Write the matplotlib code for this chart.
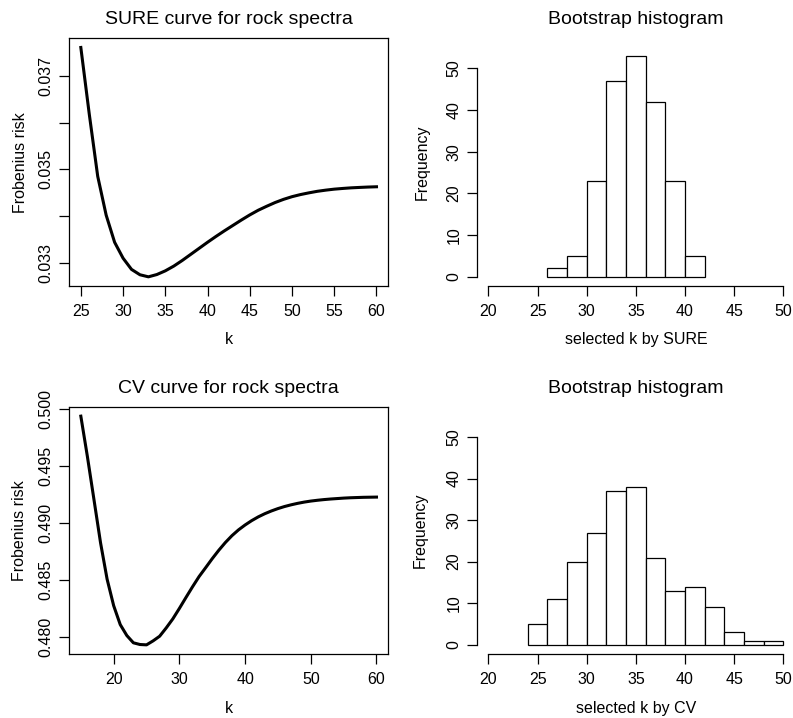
#!/usr/bin/env python3

import matplotlib
matplotlib.use('Agg')
import matplotlib.pyplot as plt

# SURE risk curve (k = 25..60)
sure_k = list(range(25, 61))
sure_risk = [0.037606, 0.036180, 0.034850, 0.034020, 0.033440, 0.033100,
             0.032860, 0.032745, 0.032701, 0.032750, 0.032829, 0.032930,
             0.033050, 0.033180, 0.033310, 0.033440, 0.033565, 0.033685,
             0.033800, 0.033915, 0.034025, 0.034125, 0.034210, 0.034290,
             0.034358, 0.034415, 0.034460, 0.034497, 0.034530, 0.034555,
             0.034576, 0.034591, 0.034604, 0.034613, 0.034621, 0.034627]

# CV risk curve (k = 15..60)
cv_k = list(range(15, 61))
cv_risk = [0.49936, 0.49581, 0.49203, 0.48824, 0.48504, 0.48271, 0.48105,
           0.48009, 0.47945, 0.47930, 0.47927, 0.47962, 0.48003, 0.48076,
           0.48155, 0.48247, 0.48343, 0.48437, 0.48527, 0.48605, 0.48684,
           0.48758, 0.48826, 0.48886, 0.48937, 0.48980, 0.49018, 0.49051,
           0.49079, 0.49103, 0.49124, 0.49142, 0.49157, 0.49170, 0.49181,
           0.49190, 0.49197, 0.49203, 0.49208, 0.49212, 0.49216, 0.49219,
           0.49221, 0.49223, 0.49224, 0.49225]

# bootstrap histograms (bin width 2)
sure_bins = [26, 28, 30, 32, 34, 36, 38, 40]
sure_counts = [2, 5, 23, 47, 53, 42, 23, 5]
cv_bins = [24, 26, 28, 30, 32, 34, 36, 38, 40, 42, 44, 46, 48]
cv_counts = [5, 11, 20, 27, 37, 38, 21, 13, 14, 9, 3, 1, 1]

plt.rcParams['font.family'] = ['Liberation Sans', 'DejaVu Sans']
plt.rcParams['font.size'] = 11.5

W, H = 793, 718
fig = plt.figure(figsize=(W / 100, H / 100), dpi=100)


def add_axes(left, top, width, height):
    """axes from pixel box (top-left origin)"""
    return fig.add_axes([left / W, (H - top - height) / H, width / W, height / H])


def r_lim(vals):
    lo, hi = min(vals), max(vals)
    pad = (hi - lo) * 0.04
    return lo - pad, hi + pad


def style_ticks(ax):
    ax.tick_params(direction='out', length=7, width=0.9, colors='black',
                   labelsize=11.5, pad=4)
    ax.tick_params(axis='x', pad=6)
    for lab in ax.get_yticklabels():
        lab.set_rotation(90)
        lab.set_va('center')


def curve_panel(ax, k, risk, title, xticks, yticks, ylabels, xlab_y, ylab_x):
    ax.plot(k, risk, color='black', linewidth=2.2)
    ax.set_xlim(*r_lim(k))
    ax.set_ylim(*r_lim(risk))
    ax.set_xticks(xticks)
    ax.set_yticks(yticks)
    ax.set_yticklabels(ylabels)
    for s in ax.spines.values():
        s.set_linewidth(0.9)
    style_ticks(ax)
    ax.set_title(title, fontsize=14, pad=10)
    ax.set_xlabel('k', va='center')
    ax.set_ylabel('Frobenius risk', va='center')
    ax.xaxis.set_label_coords(0.5, xlab_y)
    ax.yaxis.set_label_coords(ylab_x, 0.5)


def hist_panel(ax, bins, counts, xlabel, xlab_y, ylab_x):
    ax.bar(bins, counts, width=2, align='edge', facecolor='white',
           edgecolor='black', linewidth=0.9)
    ax.set_xlim(18.8, 51.2)
    ax.set_ylim(-2.2, 57.2)
    ax.set_xticks(range(20, 51, 5))
    ax.set_yticks(range(0, 51, 10))
    ax.spines['top'].set_visible(False)
    ax.spines['right'].set_visible(False)
    ax.spines['bottom'].set_bounds(20, 50)
    ax.spines['left'].set_bounds(0, 50)
    for s in ax.spines.values():
        s.set_linewidth(0.9)
    style_ticks(ax)
    ax.set_title('Bootstrap histogram', fontsize=14, pad=10)
    ax.set_xlabel(xlabel, va='center')
    ax.set_ylabel('Frequency', va='center')
    ax.xaxis.set_label_coords(0.5, xlab_y)
    ax.yaxis.set_label_coords(ylab_x, 0.5)


ax1 = add_axes(69, 38.3, 319.3, 247.7)
curve_panel(ax1, sure_k, sure_risk, 'SURE curve for rock spectra',
            range(25, 61, 5), [0.033, 0.034, 0.035, 0.036, 0.037],
            ['0.033', '', '0.035', '', '0.037'], -0.218, -0.151)

ax2 = add_axes(476.7, 38.3, 318.4, 247.7)
hist_panel(ax2, sure_bins, sure_counts, 'selected k by SURE', -0.218, -0.170)

ax3 = add_axes(69, 407, 319.3, 247)
curve_panel(ax3, cv_k, cv_risk, 'CV curve for rock spectra',
            range(20, 61, 10), [0.480, 0.485, 0.490, 0.495, 0.500],
            ['0.480', '0.485', '0.490', '0.495', '0.500'], -0.22, -0.156)

ax4 = add_axes(476.7, 407, 318.4, 247)
hist_panel(ax4, cv_bins, cv_counts, 'selected k by CV', -0.22, -0.176)

fig.savefig('out.png', dpi=100, facecolor='white')
